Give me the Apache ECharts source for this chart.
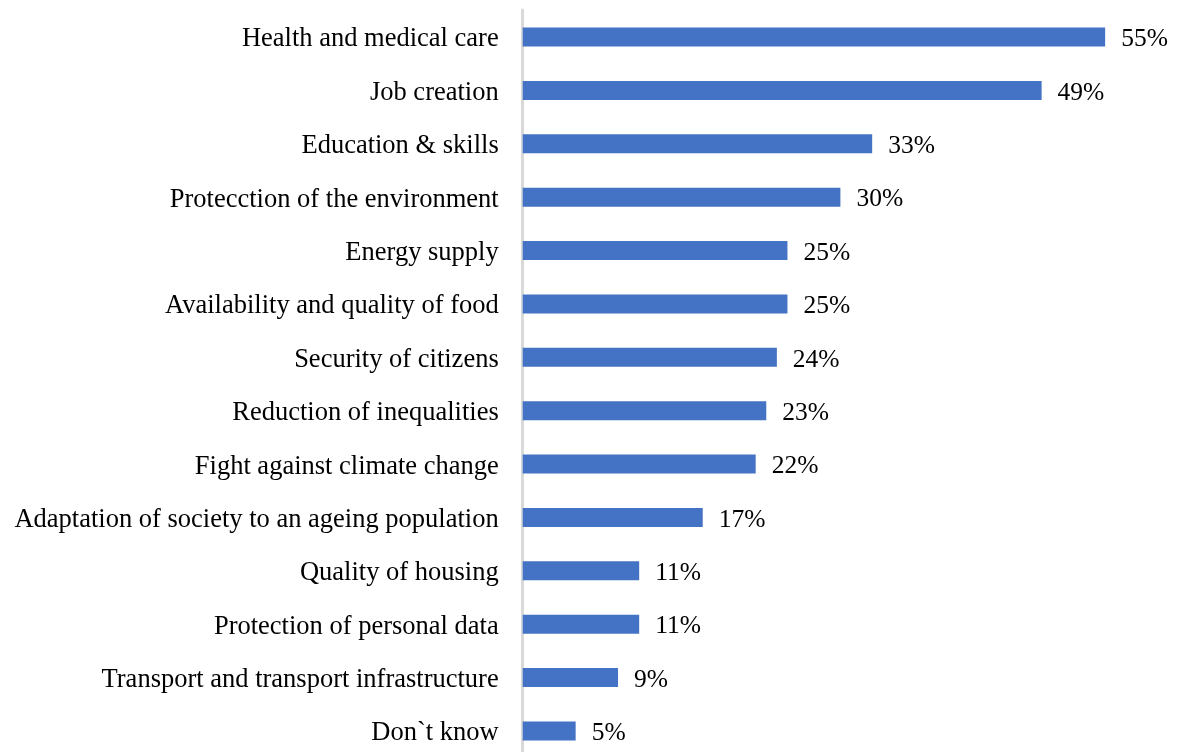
<!DOCTYPE html>
<html>
<head>
<meta charset="utf-8">
<script src="https://cdn.jsdelivr.net/npm/echarts@6/dist/echarts.min.js"></script>
<style>
  html, body { margin: 0; padding: 0; background: #ffffff; }
  #chart { width: 1177px; height: 752px; }
</style>
</head>
<body>
<div id="chart"></div>
<script>
// Priority areas, listed from top to bottom
const categories = [
  'Health and medical care',
  'Job creation',
  'Education & skills',
  'Protecction of the environment',
  'Energy supply',
  'Availability and quality of food',
  'Security of citizens',
  'Reduction of inequalities',
  'Fight against climate change',
  'Adaptation of society to an ageing population',
  'Quality of housing',
  'Protection of personal data',
  'Transport and transport infrastructure',
  'Don`t know'
];

// Share of respondents (%)
const shares = [55, 49, 33, 30, 25, 25, 24, 23, 22, 17, 11, 11, 9, 5];

const chart = echarts.init(document.getElementById('chart'), null, { renderer: 'canvas' });

const font = '"Liberation Serif", "Times New Roman", serif';

chart.setOption({
  animation: false,
  backgroundColor: '#ffffff',
  grid: [
    // bars: category centres span from the first row to the last row
    { left: 522.7, top: 37, width: 635.4, bottom: 21, containLabel: false },
    // full-height baseline of the bar axis
    { left: 522.7, top: 10, width: 10, bottom: 0, containLabel: false }
  ],
  xAxis: [
    { type: 'value', min: 0, max: 60, show: false, gridIndex: 0 },
    { type: 'value', min: 0, max: 1, show: false, gridIndex: 1 }
  ],
  yAxis: [
    {
      type: 'category',
      gridIndex: 0,
      inverse: true,
      boundaryGap: false,
      data: categories,
      axisLine: { show: false },
      axisTick: { show: false },
      splitLine: { show: false },
      axisLabel: {
        margin: 24,
        formatter: '{t|{value}}',
        rich: {
          t: {
            color: '#000000',
            fontFamily: font,
            fontSize: 26.5,
            padding: [5, 0, 0, 0]
          }
        }
      }
    },
    {
      type: 'value',
      gridIndex: 1,
      min: 0,
      max: 1,
      axisLine: { show: true, lineStyle: { color: '#d9d9d9', width: 3 } },
      axisTick: { show: false },
      axisLabel: { show: false },
      splitLine: { show: false }
    }
  ],
  series: [{
    type: 'bar',
    xAxisIndex: 0,
    yAxisIndex: 0,
    data: shares,
    barWidth: 19,
    itemStyle: { color: '#4472C4' },
    label: {
      show: true,
      position: 'right',
      distance: 16,
      offset: [0, 2.5],
      formatter: '{c}%',
      color: '#000000',
      fontFamily: font,
      fontSize: 25.5
    },
    z: 1
  }]
});
</script>
</body>
</html>
